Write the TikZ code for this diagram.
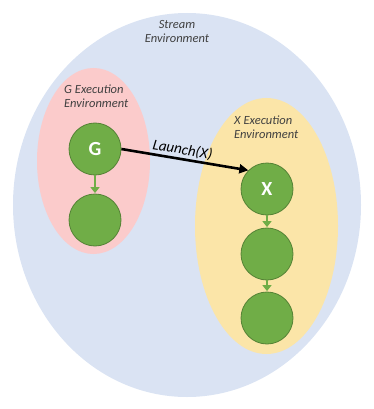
\documentclass[tikz,border=0pt]{standalone}
\usepackage{fontspec}
\setmainfont{Carlito}
\usetikzlibrary{arrows.meta}
\definecolor{streamblue}{HTML}{DAE3F3}
\definecolor{gpink}{HTML}{FBCBCB}
\definecolor{xyellow}{HTML}{FBE5A8}
\definecolor{nodegreen}{HTML}{70AD47}
\definecolor{nodeborder}{HTML}{548235}
\definecolor{labelgray}{HTML}{404040}
\tikzset{
  kernel/.style={circle, fill=nodegreen, draw=nodeborder, line width=0.8pt, minimum size=52pt, inner sep=0pt, text=white, font=\fontsize{20}{20}\selectfont\bfseries},
  envlabel/.style={font=\fontsize{12.5}{14}\selectfont\itshape, text=labelgray, align=left, inner sep=0pt},
  dep/.style={draw=nodegreen, line width=2pt, -{Triangle[length=6pt,width=9pt]}, shorten >=0.5pt},
}
\begin{document}
\begin{tikzpicture}[x=1pt,y=-1pt]
\useasboundingbox (0,0) rectangle (373,409);
\fill[streamblue] (187,205) ellipse [x radius=174, y radius=192];
\fill[gpink] (93.5,161) ellipse [x radius=56.5, y radius=93];
\fill[xyellow] (266.5,226) ellipse [x radius=71.5, y radius=128];
\node[envlabel, align=center] (stream) at (177,31) {Stream\\Environment};
\node[envlabel, anchor=west] (glabel) at (64,96) {G Execution\\Environment};
\node[envlabel, anchor=west] (xlabel) at (234,127) {X Execution\\Environment};
\node[kernel] (g) at (95,149) {G};
\node[kernel] (g2) at (95,220) {};
\node[kernel] (x) at (267,189) {X};
\node[kernel] (x2) at (267,254) {};
\node[kernel] (x3) at (267,318) {};
\draw[dep] (g) -- (g2);
\draw[dep] (x) -- (x2);
\draw[dep] (x2) -- (x3);
\draw[line width=2.6pt, -{Triangle[length=9pt,width=9pt]}] (g.east) -- (x.north west)
  node[pos=0.47, above, sloped, font=\fontsize{15}{15}\selectfont\itshape, text=black, inner sep=1.5pt] (launch) {Launch(X)};
\end{tikzpicture}
\end{document}
